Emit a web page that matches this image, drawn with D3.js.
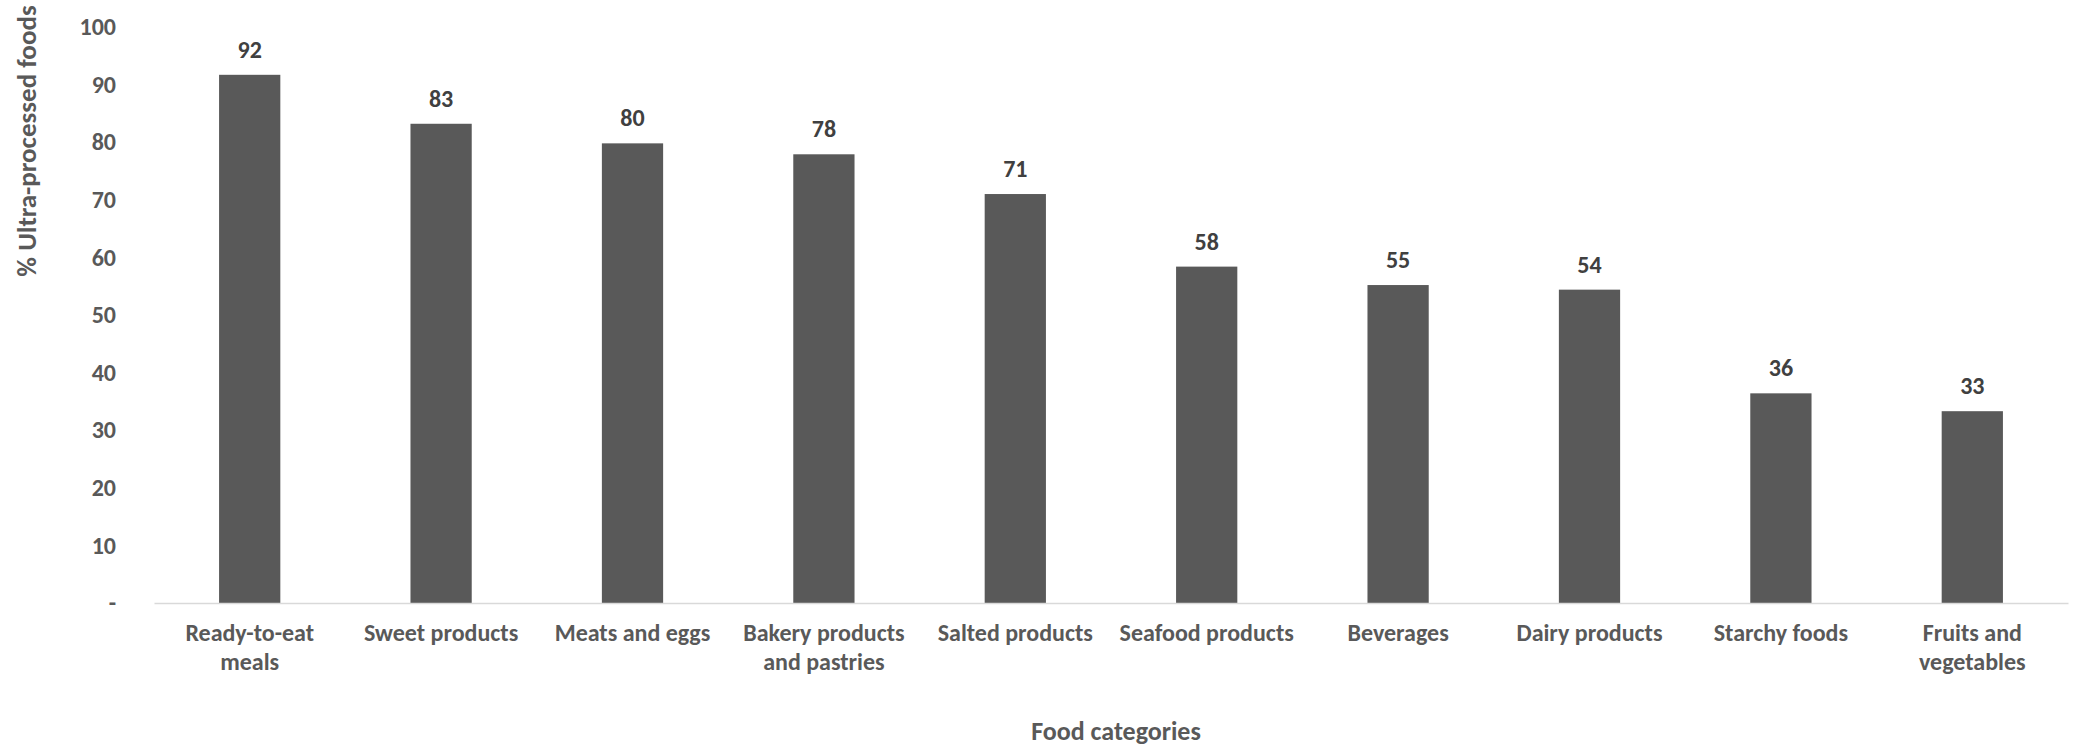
<!DOCTYPE html>
<html>
<head>
<meta charset="utf-8">
<script src="https://cdn.jsdelivr.net/npm/d3@7"></script>
<style>
  html, body { margin: 0; padding: 0; background: #ffffff; }
  svg { display: block; }
  text { font-family: Carlito, Lato, "Liberation Sans", sans-serif; }
</style>
</head>
<body>
<svg id="chart" width="2074" height="750"></svg>
<script>
// ---- data ----
const categories = [
  "Ready-to-eat\nmeals",
  "Sweet products",
  "Meats and eggs",
  "Bakery products\nand pastries",
  "Salted products",
  "Seafood products",
  "Beverages",
  "Dairy products",
  "Starchy foods",
  "Fruits and\nvegetables"
];
const values = [91.7, 83.2, 79.8, 77.9, 71.0, 58.4, 55.2, 54.4, 36.4, 33.3];
const yTicks = [0, 10, 20, 30, 40, 50, 60, 70, 80, 90, 100];
const yTitle = "% Ultra-processed foods";
const xTitle = "Food categories";

// ---- layout ----
const svg = d3.select("#chart");
const x0 = 154, x1 = 2068, yBase = 603, yTop = 27;

const x = d3.scaleBand()
  .domain(categories)
  .range([x0, x1])
  .paddingInner(0.68)
  .paddingOuter(0.34);

const y = d3.scaleLinear().domain([0, 100]).range([yBase, yTop]);

// y axis (labels only)
const yAxis = svg.append("g")
  .attr("transform", `translate(${x0},0)`)
  .call(d3.axisLeft(y).tickValues(yTicks).tickSize(0).tickPadding(38)
    .tickFormat(d => d === 0 ? "-" : d));
yAxis.select(".domain").remove();
yAxis.selectAll("text")
  .attr("fill", "#595959")
  .style("font-size", "24px")
  .style("font-weight", "bold");

// bars
svg.append("g").selectAll("rect")
  .data(values)
  .join("rect")
  .attr("x", (d, i) => x(categories[i]))
  .attr("width", x.bandwidth())
  .attr("y", d => y(d))
  .attr("height", d => yBase - y(d))
  .attr("fill", "#595959");

// x axis
const xAxis = svg.append("g")
  .attr("transform", `translate(0,${yBase})`)
  .call(d3.axisBottom(x).tickSize(0).tickPadding(0).tickFormat(""));
xAxis.select(".domain")
  .attr("stroke", "#d9d9d9")
  .attr("stroke-width", 1.5);

// category labels
xAxis.selectAll(".tick").each(function(d) {
  const t = d3.select(this).append("text")
    .attr("fill", "#595959")
    .attr("text-anchor", "middle")
    .style("font-size", "24px")
    .style("font-weight", "bold");
  d.split("\n").forEach((line, k) => {
    t.append("tspan").attr("x", 0).attr("y", 38 + k * 29).text(line);
  });
});

// data labels
svg.append("g").selectAll("text")
  .data(values)
  .join("text")
  .attr("x", (d, i) => x(categories[i]) + x.bandwidth() / 2)
  .attr("y", d => y(d) - 17)
  .attr("text-anchor", "middle")
  .attr("fill", "#404040")
  .style("font-size", "24px")
  .style("font-weight", "bold")
  .text(d => Math.round(d));

// axis titles
svg.append("text")
  .attr("transform", `translate(36,141) rotate(-90)`)
  .attr("text-anchor", "middle")
  .attr("fill", "#595959")
  .style("font-size", "27px")
  .style("font-weight", "bold")
  .text(yTitle);

svg.append("text")
  .attr("x", 1116)
  .attr("y", 740)
  .attr("text-anchor", "middle")
  .attr("fill", "#595959")
  .style("font-size", "26px")
  .style("font-weight", "bold")
  .text(xTitle);
</script>
</body>
</html>
